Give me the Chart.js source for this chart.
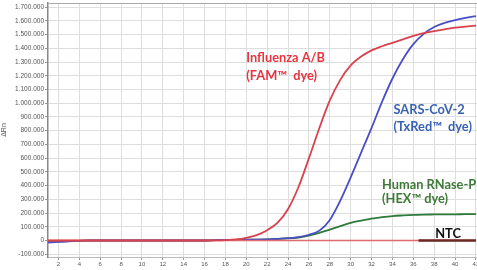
<!DOCTYPE html>
<html><head><meta charset="utf-8">
<script src="https://cdn.jsdelivr.net/npm/chart.js@4/dist/chart.umd.min.js"></script>
<style>html,body{margin:0;padding:0;background:#fff}#wrap{width:477px;height:270px;position:relative}</style>
</head><body><div id="wrap"><canvas id="c"></canvas></div>
<script>
const cycles = [1,2,3,4,5,6,7,8,9,10,11,12,13,14,15,16,17,18,19,20,21,22,23,24,25,26,27,28,29,30,31,32,33,34,35,36,37,38,39,40,41,42];
const influenzaFAM = [0,0,0,0,0,0,0,0,0,0,0,0,0,0,0,0,1000,3000,8000,20000,40000,75000,130000,230000,390000,600000,820000,1020000,1170000,1275000,1340000,1385000,1415000,1440000,1465000,1490000,1510000,1525000,1538000,1550000,1558000,1565000];
const sarsTxRed = [-15000,-10000,-6000,-2000,0,0,0,0,0,0,0,0,0,0,0,0,3000,4000,5000,6000,7000,9000,12000,17000,25000,42000,72000,150000,290000,460000,640000,820000,1010000,1180000,1320000,1430000,1505000,1555000,1585000,1605000,1622000,1635000];
const rnasePHEX = [-12000,-8000,-5000,-2000,0,0,0,0,0,0,0,0,0,0,0,0,3000,4000,5000,6000,7000,8000,11000,15000,22000,35000,55000,80000,105000,128000,145000,160000,170000,178000,183000,187000,189000,190000,191000,191000,192000,192000];
const baselineFAM = cycles.map(() => 0);
const ntcCycles = [36.5,37,38,39,40,41,42];
const ntcValues = [0,0,0,0,0,0,0];
const xTicks = [2,4,6,8,10,12,14,16,18,20,22,24,26,28,30,32,34,36,38,40,42];
const yTicks = [-100000,0,100000,200000,300000,400000,500000,600000,700000,800000,900000,1000000,1100000,1200000,1300000,1400000,1500000,1600000,1700000];
const labelTexts = ["Influenza A/B","(FAM™  dye)","SARS-CoV-2","(TxRed™  dye)","Human RNase-P","(HEX™ dye)","NTC"];
const labelX = [20.0,20.0,34.1,34.1,33.0,33.0,38.1];
const labelY = [1328000,1197000,949000,825000,409000,307000,51000];
const labelColors = ["#e8343f","#e8343f","#3862b4","#3862b4","#3f7a3a","#3f7a3a","#111111"];

const pts = (xs, ys) => xs.map((x,i)=>({x:x,y:ys[i]}));
function fmt(v){const s=Math.abs(v).toString().replace(/\B(?=(\d{3})+(?!\d))/g,'.');return (v<0?'-':'')+s;}

const labelPlugin = {
  id:'labels',
  afterDatasetsDraw(chart){
    const ctx=chart.ctx, xs=chart.scales.x, ys=chart.scales.y, a=chart.chartArea;
    ctx.save();
    ctx.strokeStyle='#aaaaaa'; ctx.lineWidth=1;
    ctx.beginPath(); ctx.moveTo(a.left,a.top+0.5); ctx.lineTo(a.right,a.top+0.5); ctx.stroke();
    ctx.font='bold 12.8px Lato'; ctx.textBaseline='middle'; ctx.textAlign='left';
    labelTexts.forEach((t,i)=>{ctx.fillStyle=labelColors[i]; ctx.fillText(t, xs.getPixelForValue(labelX[i]), ys.getPixelForValue(labelY[i]));});
    ctx.restore();
  }
};

const ds = (label,data,color,w,order)=>({label,data,borderColor:color,borderWidth:w,pointRadius:0,fill:false,cubicInterpolationMode:'monotone',order});
new Chart(document.getElementById('c'),{
  type:'line',
  data:{datasets:[
    ds('NTC',pts(ntcCycles,ntcValues),'#6a2a22',2.6,0),
    ds('Influenza A/B',pts(cycles,influenzaFAM),'#d9424c',1.8,1),
    ds('Baseline',pts(cycles,baselineFAM),'#e06a6a',1.5,2),
    ds('SARS-CoV-2',pts(cycles,sarsTxRed),'#4a4ec4',1.8,3),
    ds('Human RNase-P',pts(cycles,rnasePHEX),'#2e7a3a',1.8,4)
  ]},
  options:{
    responsive:true,maintainAspectRatio:false,animation:false,devicePixelRatio:1,
    layout:{padding:{top:3,left:0,right:0,bottom:0}},
    plugins:{legend:{display:false},tooltip:{enabled:false}},
    scales:{
      x:{type:'linear',min:1,max:42.1,
        afterBuildTicks(s){s.ticks=xTicks.map(v=>({value:v}));},
        afterFit(s){s.paddingLeft=0;s.paddingRight=0;s.height=13;},
        ticks:{font:{size:6,family:'Liberation Sans'},color:'#555',padding:1,maxRotation:0,autoSkip:false},
        grid:{color:'#dedede',lineWidth:1,tickLength:3,tickColor:'#999'},
        border:{color:'#bbbbbb',width:1}},
      y:{min:-120000,max:1730000,
        afterBuildTicks(s){s.ticks=yTicks.map(v=>({value:v}));},
        afterFit(s){s.width=48;s.paddingTop=0;s.paddingBottom=0;},
        ticks:{font:{size:6.5,family:'Liberation Sans'},color:'#555',padding:1,autoSkip:false,callback:v=>fmt(v)},
        title:{display:true,text:'ΔRn',font:{size:7,family:'Liberation Sans'},color:'#555',padding:0},
        grid:{color:'#dedede',lineWidth:1,tickLength:3,tickColor:'#999'},
        border:{color:'#888888',width:1.5}}
    }
  },
  plugins:[labelPlugin]
});
</script></body></html>
